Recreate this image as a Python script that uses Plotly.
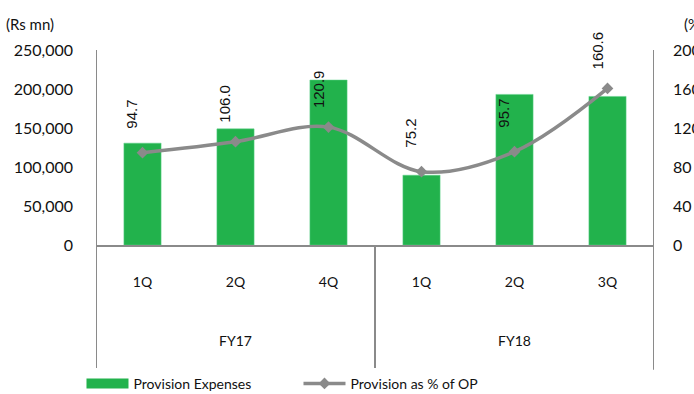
import plotly.graph_objects as go

quarters = ["1Q", "2Q", "4Q", "1Q", "2Q", "3Q"]
fiscal_years = ["FY17", "FY17", "FY17", "FY18", "FY18", "FY18"]
provision_expenses = [130600, 148900, 211500, 89500, 193100, 190500]
provision_pct_op = [94.7, 106.0, 120.9, 75.2, 95.7, 160.6]

x_idx = list(range(len(quarters)))
GRAY = "#8a8a8a"
GREEN = "#22B24C"
FONT = "Lato"

fig = go.Figure()
fig.add_trace(go.Bar(
    x=x_idx, y=provision_expenses, name="Provision Expenses", showlegend=False,
    marker=dict(color=GREEN, line=dict(color="#5fd08a", width=0.5)),
    width=0.4,
))
# legend swatch for bars (wide rectangle like the reference)
fig.add_trace(go.Scatter(
    x=[None], y=[None], name="Provision Expenses", mode="lines",
    line=dict(color=GREEN, width=11),
))
fig.add_trace(go.Scatter(
    x=x_idx, y=provision_pct_op, name="Provision as % of OP", yaxis="y2",
    mode="lines+markers", line=dict(color=GRAY, width=3.5, shape="spline", smoothing=1.0),
    marker=dict(symbol="diamond", size=9, color=GRAY),
))

for xi, v in zip(x_idx, provision_pct_op):
    fig.add_annotation(x=xi, y=v, xref="x", yref="y2", text=f"{v:.1f}",
                       textangle=-90, showarrow=True, arrowcolor="rgba(0,0,0,0)",
                       ax=0, ay=-38, xanchor="center", yanchor="bottom",
                       font=dict(family="Liberation Sans", size=15, color="#111"))

# group labels and dividers
groups = []
for i, g in enumerate(fiscal_years):
    if not groups or groups[-1][0] != g:
        groups.append([g, i, i])
    else:
        groups[-1][2] = i
bottom = -0.64
for g, s, e in groups:
    fig.add_annotation(x=(s + e) / 2, y=-0.49, xref="x", yref="paper", text=g,
                       showarrow=False, yanchor="middle",
                       font=dict(family=FONT, size=14, color="#111"))
bounds = [groups[0][1] - 0.5] + [e + 0.5 for _, _, e in groups]
for k, b in enumerate(bounds):
    top = 1 if k in (0, len(bounds) - 1) else 0
    fig.add_shape(type="line", x0=b, x1=b, xref="x", y0=top, y1=bottom, yref="paper",
                  line=dict(color=GRAY, width=2))

fig.add_annotation(x=0, y=1, xref="paper", yref="paper", text="(Rs mn)", showarrow=False,
                   xanchor="left", yanchor="bottom", xshift=-92, yshift=15,
                   font=dict(family=FONT, size=15, color="#111"))
fig.add_annotation(x=1, y=1, xref="paper", yref="paper", text="(%)", showarrow=False,
                   xanchor="left", yanchor="bottom", xshift=28, yshift=15,
                   font=dict(family=FONT, size=15, color="#111"))

fig.update_layout(
    width=694, height=394, margin=dict(l=96, r=40, t=50, b=149, autoexpand=False),
    plot_bgcolor="white", paper_bgcolor="white",
    font=dict(family=FONT, size=14, color="#111"),
    xaxis=dict(range=[-0.5, 5.5], tickvals=x_idx, ticktext=quarters, showgrid=False,
               showline=True, linecolor=GRAY, linewidth=2, ticks="", ticklabelstandoff=23,
               zeroline=False, tickfont=dict(size=14)),
    yaxis=dict(range=[0, 250000], dtick=50000, tickformat=",", showgrid=False,
               showline=False, ticks="", ticklabelstandoff=22, zeroline=False,
               tickfont=dict(size=16)),
    yaxis2=dict(range=[0, 200], dtick=40, overlaying="y", side="right", showgrid=False,
                showline=False, ticks="", ticklabelstandoff=18, zeroline=False,
                tickfont=dict(size=16)),
    legend=dict(orientation="h", x=-0.026, y=-0.63, xanchor="left", yanchor="top",
                font=dict(family=FONT, size=14, color="#111"), entrywidth=160,
                entrywidthmode="pixels", itemwidth=42),
)
fig.write_html("out.html")
